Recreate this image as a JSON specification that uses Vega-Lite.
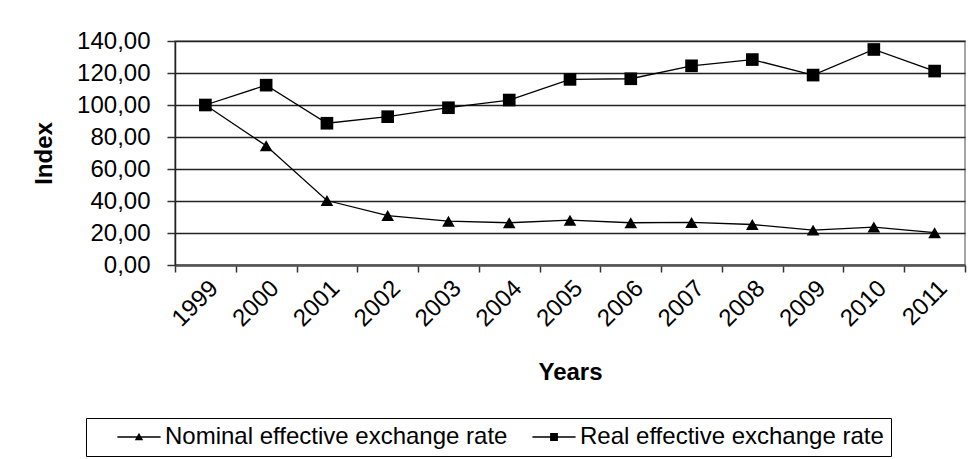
{
  "$schema": "https://vega.github.io/schema/vega-lite/v6.json",
  "autosize": {"type": "none"},
  "padding": {"left": 175, "top": 41, "right": 3, "bottom": 194},
  "width": 790,
  "height": 224,
  "background": "white",
  "data": {
    "values": [
      {"year": "1999", "series": "Nominal effective exchange rate", "value": 100},
      {"year": "2000", "series": "Nominal effective exchange rate", "value": 74.5},
      {"year": "2001", "series": "Nominal effective exchange rate", "value": 40.3},
      {"year": "2002", "series": "Nominal effective exchange rate", "value": 30.9},
      {"year": "2003", "series": "Nominal effective exchange rate", "value": 27.4},
      {"year": "2004", "series": "Nominal effective exchange rate", "value": 26.4},
      {"year": "2005", "series": "Nominal effective exchange rate", "value": 28.0},
      {"year": "2006", "series": "Nominal effective exchange rate", "value": 26.4},
      {"year": "2007", "series": "Nominal effective exchange rate", "value": 26.6},
      {"year": "2008", "series": "Nominal effective exchange rate", "value": 25.3},
      {"year": "2009", "series": "Nominal effective exchange rate", "value": 21.8},
      {"year": "2010", "series": "Nominal effective exchange rate", "value": 23.7},
      {"year": "2011", "series": "Nominal effective exchange rate", "value": 20.2},
      {"year": "1999", "series": "Real effective exchange rate", "value": 100},
      {"year": "2000", "series": "Real effective exchange rate", "value": 112.4},
      {"year": "2001", "series": "Real effective exchange rate", "value": 88.6},
      {"year": "2002", "series": "Real effective exchange rate", "value": 92.7},
      {"year": "2003", "series": "Real effective exchange rate", "value": 98.3},
      {"year": "2004", "series": "Real effective exchange rate", "value": 103.1},
      {"year": "2005", "series": "Real effective exchange rate", "value": 116.0},
      {"year": "2006", "series": "Real effective exchange rate", "value": 116.4},
      {"year": "2007", "series": "Real effective exchange rate", "value": 124.5},
      {"year": "2008", "series": "Real effective exchange rate", "value": 128.4},
      {"year": "2009", "series": "Real effective exchange rate", "value": 118.7},
      {"year": "2010", "series": "Real effective exchange rate", "value": 134.7},
      {"year": "2011", "series": "Real effective exchange rate", "value": 121.2}
    ]
  },
  "encoding": {
    "x": {
      "field": "year",
      "type": "ordinal",
      "title": "Years",
      "scale": {"type": "band", "paddingInner": 0, "paddingOuter": 0},
      "axis": {
        "labelAngle": -45,
        "labelFontSize": 24,
        "labelPadding": 4,
        "tickBand": "extent",
        "tickSize": 7,
        "tickColor": "#333",
        "tickWidth": 1.5,
        "domainColor": "#555",
        "domainWidth": 2.5,
        "titleFontSize": 24,
        "titlePadding": 30,
        "grid": false
      }
    },
    "y": {
      "field": "value",
      "type": "quantitative",
      "title": "Index",
      "scale": {"domain": [0, 140]},
      "axis": {
        "values": [0, 20, 40, 60, 80, 100, 120, 140],
        "labelExpr": "replace(format(datum.value, '.2f'), '.', ',')",
        "labelFontSize": 24,
        "labelPadding": 17,
        "tickSize": 8,
        "tickColor": "#333",
        "tickWidth": 1.5,
        "domainColor": "#222",
        "domainWidth": 1.5,
        "gridColor": "#222",
        "gridWidth": 1.5,
        "titleFontSize": 24,
        "titlePadding": 20
      }
    }
  },
  "layer": [
    {
      "mark": {"type": "line", "color": "black", "strokeWidth": 1.3},
      "encoding": {"detail": {"field": "series"}}
    },
    {
      "mark": {"type": "point", "filled": true, "color": "black", "opacity": 1},
      "encoding": {
        "shape": {
          "field": "series",
          "type": "nominal",
          "scale": {"range": ["triangle-up", "square"]},
          "legend": null
        },
        "size": {"value": 160}
      }
    },
    {
      "transform": [{"filter": "false"}],
      "mark": {"type": "point", "filled": true, "color": "black", "opacity": 1},
      "encoding": {
        "shape": {
          "field": "series",
          "type": "nominal",
          "title": null,
          "scale": {
            "domain": ["Nominal effective exchange rate", "Real effective exchange rate"],
            "range": [
              "M-3.6,-0.12H3.6V0.12H-3.6ZM-0.7,0.55L0,-0.7L0.7,0.55Z",
              "M-3.6,-0.12H3.6V0.12H-3.6ZM-0.65,-0.65H0.65V0.65H-0.65Z"
            ]
          },
          "legend": {
            "orient": "none",
            "legendX": -89,
            "legendY": 377,
            "direction": "horizontal",
            "columns": 2,
            "strokeColor": "black",
            "padding": 7,
            "symbolSize": 144,
            "symbolOffset": 34,
            "symbolFillColor": "black",
            "symbolStrokeWidth": 0,
            "labelFontSize": 24,
            "labelOffset": 14,
            "labelLimit": 500,
            "columnPadding": 0
          }
        }
      }
    }
  ],
  "resolve": {"scale": {"shape": "independent"}},
  "config": {
    "font": "Liberation Sans",
    "view": {"stroke": "#888", "strokeWidth": 1.5},
    "axis": {"labelColor": "black", "titleColor": "black", "titleFontWeight": "bold"}
  }
}
